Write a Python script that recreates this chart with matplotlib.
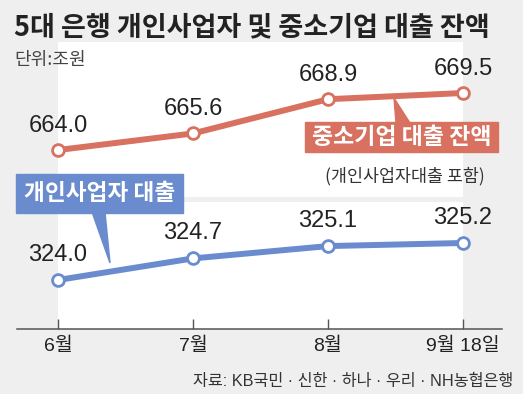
import matplotlib
matplotlib.use("Agg")
import matplotlib.pyplot as plt
from matplotlib.patches import Rectangle, Polygon
from matplotlib.lines import Line2D

plt.rcParams['font.family'] = ['Liberation Sans', 'Noto Sans CJK KR', 'DejaVu Sans']

# ---- data ----
months = ['6월', '7월', '8월', '9월 18일']
sme_loans = [664.0, 665.6, 668.9, 669.5]        # 중소기업 대출 잔액 (개인사업자대출 포함)
indiv_loans = [324.0, 324.7, 325.1, 325.2]      # 개인사업자 대출

title = '5대 은행 개인사업자 및 중소기업 대출 잔액'
unit = '단위:조원'
source = '자료: KB국민 · 신한 · 하나 · 우리 · NH농협은행'
sme_label = '중소기업 대출 잔액'
sme_sub = '(개인사업자대출 포함)'
indiv_label = '개인사업자 대출'

W, H = 523, 394
ORANGE = '#d8715f'
BLUE = '#6a8cce'
BG = '#efefef'
KR = ['Noto Sans CJK KR', 'DejaVu Sans']
NUM = ['Liberation Sans', 'Noto Sans CJK KR', 'DejaVu Sans']

def fx(x):
    return x / W

def fy(y):
    return 1 - y / H

fig = plt.figure(figsize=(W / 100, H / 100), dpi=100, facecolor=BG)

# axes geometry (pixels)
left, right = 58, 463
top_t, top_b = 42, 197
bot_t, bot_b = 202, 329

ax_top = fig.add_axes([fx(left), fy(top_b), (right - left) / W, (top_b - top_t) / H])
ax_bot = fig.add_axes([fx(left), fy(bot_b), (right - left) / W, (bot_b - bot_t) / H])

x = list(range(len(months)))

for ax in (ax_top, ax_bot):
    ax.set_facecolor('white')
    ax.set_xlim(0, len(months) - 1)
    for s in ax.spines.values():
        s.set_visible(False)
    ax.set_yticks([])

# y scales
ax_top.set_ylim(659.47, 674.42)
ax_bot.set_ylim(322.41, 326.53)

ax_top.set_xticks([])
ax_bot.set_xticks(x)
ax_bot.set_xticklabels(months, fontsize=14, color='#222', family=NUM)
ax_bot.tick_params(axis='x', direction='in', length=7, width=1, color='#555', pad=6)

ax_top.plot(x, sme_loans, color=ORANGE, lw=4.3, marker='o', ms=8.5, mfc='white',
            mec=ORANGE, mew=2, clip_on=False, zorder=5)
ax_bot.plot(x, indiv_loans, color=BLUE, lw=4.3, marker='o', ms=8.5, mfc='white',
            mec=BLUE, mew=2, clip_on=False, zorder=5)

for xi, v in zip(x, sme_loans):
    ax_top.annotate(f'{v:.1f}', (xi, v), xytext=(0, 17.5), textcoords='offset points',
                    ha='center', va='center', fontsize=17, color='#222',
                    family=NUM, annotation_clip=False, zorder=6)
for xi, v in zip(x, indiv_loans):
    ax_bot.annotate(f'{v:.1f}', (xi, v), xytext=(0, 18), textcoords='offset points',
                    ha='center', va='center', fontsize=17, color='#222',
                    family=NUM, annotation_clip=False, zorder=6)

# baseline
fig.add_artist(Line2D([fx(17), fx(502)], [fy(329), fy(329)], color='#555', lw=1.1,
                      transform=fig.transFigure))

# title & texts
fig.text(fx(14), fy(27), title, fontsize=19.5, fontweight='bold', color='#222',
         family=KR, ha='left', va='center')
fig.text(fx(14), fy(60), unit, fontsize=13, color='#444', family=KR,
         ha='left', va='center')
fig.text(fx(513), fy(381), source, fontsize=11.7, color='#333', family=NUM,
         ha='right', va='center')

# orange callout
fig.add_artist(Polygon([(fx(394), fy(98)), (fx(396), fy(123)), (fx(410), fy(123))],
                       closed=True, color=ORANGE, transform=fig.transFigure, zorder=7))
fig.add_artist(Rectangle((fx(305), fy(152)), (498 - 305) / W, (152 - 122) / H,
                         color=ORANGE, transform=fig.transFigure, zorder=7))
fig.text(fx(401.5), fy(137.5), sme_label, fontsize=16.5, fontweight='bold', color='white',
         family=KR, ha='center', va='center', zorder=8)
fig.text(fx(405), fy(176), sme_sub, fontsize=12.5, color='#333', family=KR,
         ha='center', va='center', zorder=8)

# blue callout
fig.add_artist(Polygon([(fx(92), fy(212)), (fx(105), fy(212)), (fx(110), fy(263))],
                       closed=True, color=BLUE, transform=fig.transFigure, zorder=7))
fig.add_artist(Rectangle((fx(16), fy(213)), (183 - 16) / W, (213 - 174) / H,
                         color=BLUE, transform=fig.transFigure, zorder=7))
fig.text(fx(99.5), fy(194), indiv_label, fontsize=16.3, fontweight='bold', color='white',
         family=KR, ha='center', va='center', zorder=8)

fig.savefig('out.png', dpi=100, facecolor=BG)
